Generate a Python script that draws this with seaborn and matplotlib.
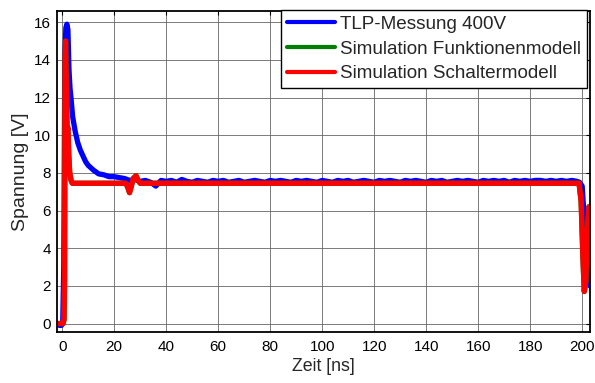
import numpy as np
import pandas as pd
import matplotlib
matplotlib.use("Agg")
import matplotlib.pyplot as plt
from matplotlib.lines import Line2D
import seaborn as sns

# ---- data ----
series_names = ["TLP-Messung 400V", "Simulation Funktionenmodell", "Simulation Schaltermodell"]
series_colors = ["#0000ff", "#008000", "#ff0000"]

# Measurement (blue)
t_meas = [-2.0, -1.0, -0.3, 0.2, 0.6, 1.0, 1.4, 1.8, 2.2, 2.6, 3.0, 3.5, 4.0, 5.0, 6.0,
          7.0, 8.0, 9.0, 10.0, 12.0, 14.0, 16.0, 18.0, 20.0, 22.0, 24.0, 26.0, 28.0]
u_meas = [-0.05, -0.1, -0.1, 0.0, 3.0, 14.0, 15.7, 15.9, 15.6, 13.5, 12.5, 11.8, 11.0, 10.2, 9.6,
          9.2, 8.9, 8.6, 8.4, 8.15, 7.95, 7.9, 7.8, 7.8, 7.75, 7.7, 7.6, 7.65]
t_meas_flat = list(range(30, 200, 2))
u_meas_flat = [7.55, 7.6, 7.5, 7.3, 7.6, 7.55, 7.6, 7.5, 7.65, 7.55, 7.5, 7.6, 7.55, 7.5, 7.6,
               7.55, 7.6, 7.5, 7.55, 7.6, 7.5, 7.55, 7.6, 7.55, 7.5, 7.6, 7.55, 7.6, 7.55, 7.5,
               7.6, 7.55, 7.6, 7.55, 7.5, 7.6, 7.55, 7.5, 7.6, 7.55, 7.6, 7.5, 7.55, 7.6, 7.55,
               7.5, 7.6, 7.55, 7.6, 7.55, 7.5, 7.6, 7.55, 7.6, 7.55, 7.5, 7.6, 7.55, 7.6, 7.5,
               7.55, 7.6, 7.55, 7.6, 7.55, 7.5, 7.6, 7.55, 7.6, 7.55, 7.6, 7.5, 7.6, 7.55, 7.6,
               7.55, 7.6, 7.6, 7.55, 7.6, 7.55, 7.6, 7.55, 7.6, 7.55]
t_meas_end = [199.0, 200.0, 200.6, 201.2, 201.8, 202.4, 203.0]
u_meas_end = [7.5, 7.3, 6.0, 4.5, 3.2, 2.4, 2.0]

# Simulation (red; the green model lies underneath it)
t_sim = [-2.0, 0.3, 0.7, 0.9, 1.1, 1.3, 1.6, 1.9, 2.2, 2.5, 2.9, 3.4, 3.9, 5.0, 24.5,
         25.3, 25.9, 26.6, 27.3, 28.4, 29.2, 30.0, 198.8, 199.6, 200.3, 200.8, 201.4, 202.0, 202.6]
u_sim = [0.0, 0.0, 0.2, 2.3, 14.0, 15.0, 12.5, 10.2, 10.4, 9.0, 8.0, 7.6, 7.45, 7.45, 7.45,
         7.2, 6.95, 7.3, 7.7, 7.85, 7.6, 7.45, 7.45, 6.5, 3.5, 1.7, 2.2, 5.0, 6.2]

x_ticks = list(range(0, 201, 20))
y_ticks = list(range(0, 17, 2))

# ---- build long table ----
t_blue = t_meas + t_meas_flat + t_meas_end
u_blue = u_meas + u_meas_flat + u_meas_end
frames = [
    pd.DataFrame({"t": t_blue, "u": u_blue, "s": series_names[0]}),
    pd.DataFrame({"t": t_sim, "u": u_sim, "s": series_names[1]}),
    pd.DataFrame({"t": t_sim, "u": u_sim, "s": series_names[2]}),
]
df = pd.concat(frames, ignore_index=True)

sns.set_style("white")
plt.rcParams["font.family"] = ["Liberation Sans", "DejaVu Sans"]

fig = plt.figure(figsize=(5.95, 3.83), dpi=100)
ax = fig.add_axes([0.0958, 0.1332, 0.8966, 0.8381])

sns.lineplot(data=df, x="t", y="u", hue="s", hue_order=series_names,
             palette=dict(zip(series_names, series_colors)),
             sort=False, estimator=None, linewidth=3.8, ax=ax, legend=False)

ax.set_xlim(-2, 203.2)
ax.set_ylim(-0.45, 16.6)
ax.set_xticks(x_ticks)
ax.set_yticks(y_ticks)
ax.grid(True, color="0.4", linewidth=0.6, linestyle="-")
ax.set_axisbelow(True)
ax.tick_params(axis="both", direction="in", length=3, width=0.8, top=True, right=True,
               labelsize=11, colors="black")
ax.tick_params(axis="x", pad=6)
ax.tick_params(axis="y", pad=4.5)
for sp in ax.spines.values():
    sp.set_color("black")
    sp.set_linewidth(1.3)

ax.set_xlabel("Zeit [ns]", fontsize=12.8, labelpad=2.5)
ax.set_ylabel("Spannung [V]", fontsize=14, labelpad=3.5)

handles = [Line2D([], [], color=c, linewidth=3.0) for c in series_colors]
leg = ax.legend(handles, series_names, loc="upper right",
                bbox_to_anchor=(587 / 595, 1 - 10 / 383), bbox_transform=fig.transFigure,
                fontsize=13.6, frameon=True, fancybox=False, edgecolor="black", framealpha=1,
                handlelength=2.55, handletextpad=0.27, borderaxespad=0.0,
                borderpad=0.3, labelspacing=0.4)
leg.get_frame().set_linewidth(1.0)

fig.savefig("out.png", dpi=100)
